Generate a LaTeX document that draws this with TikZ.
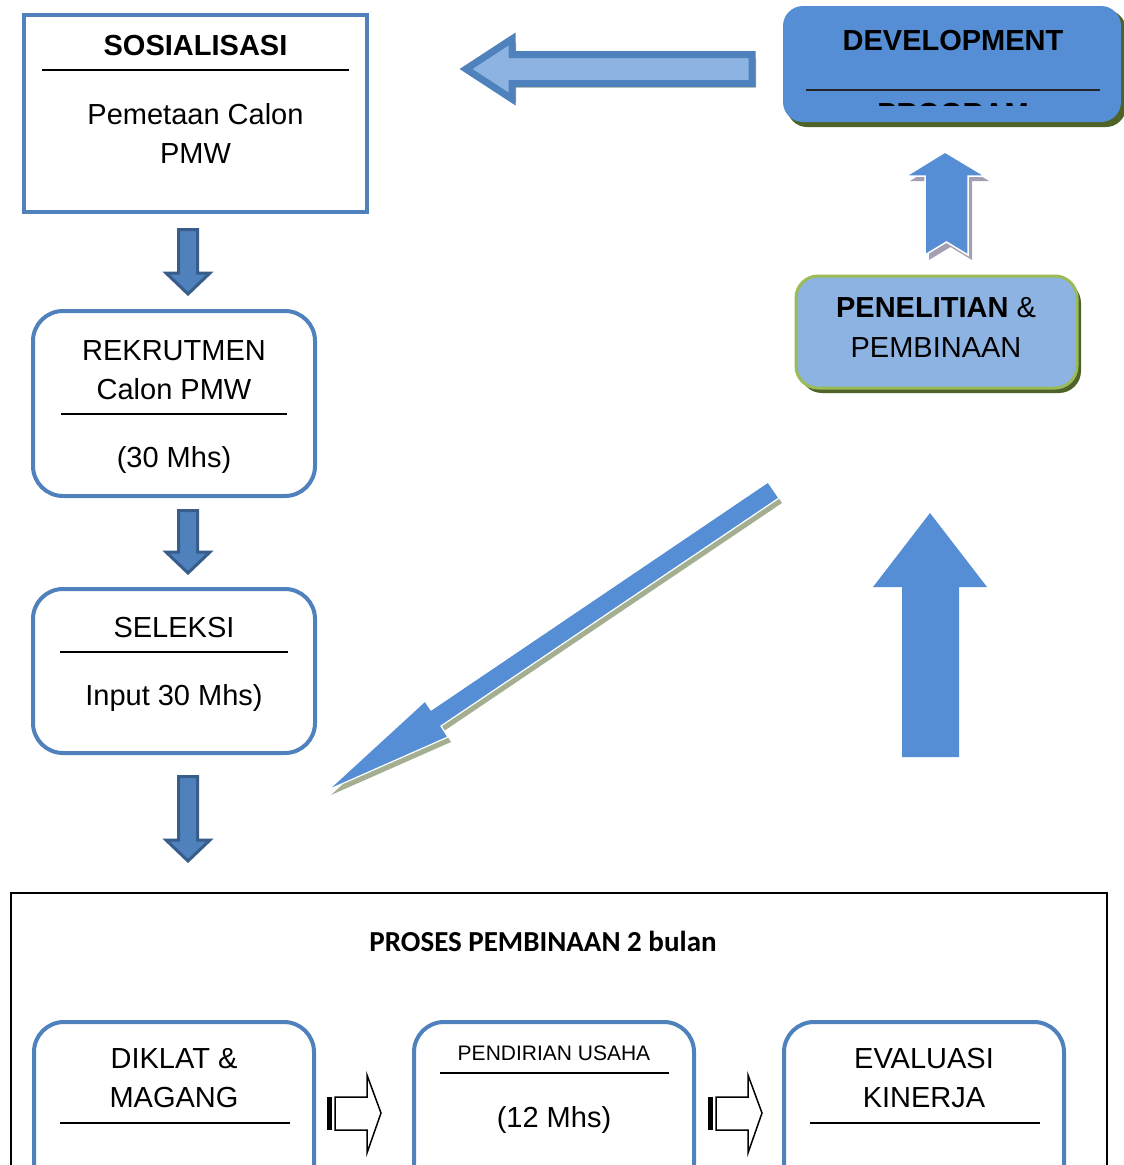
\documentclass[tikz,border=0pt]{standalone}
\usepackage{fontspec}
\setmainfont{Liberation Sans}
\newfontfamily\calibrifont{Carlito}
\usetikzlibrary{calc}
\definecolor{boxblue}{HTML}{4F81BD}
\definecolor{arrowedge}{HTML}{385D8A}
\definecolor{devblue}{HTML}{558ED5}
\definecolor{lightblue}{HTML}{8DB3E2}
\definecolor{darkolive}{HTML}{4F6228}
\definecolor{leafgreen}{HTML}{9BBB59}
\definecolor{sageshadow}{HTML}{A4AF91}
\definecolor{mauveshadow}{HTML}{A59FB5}

\tikzset{
  every node/.style={inner sep=0pt, outer sep=0pt},
  txt/.style={anchor=base, font=\fontsize{29}{35}\selectfont},
  boldtxt/.style={anchor=base, font=\fontsize{29}{35}\selectfont\bfseries},
  smalltxt/.style={anchor=base, font=\fontsize{21}{25}\selectfont},
  rule/.style={line width=2pt, black},
  squarebox/.style={draw=boxblue, line width=4pt},
  roundbox/.style={draw=boxblue, line width=4pt, rounded corners=30pt},
  downblock/.style={fill=boxblue, draw=arrowedge, line width=3pt},
  stripearrow/.pic={
    \fill[black] (0,0) rectangle (5,33);
    \draw[black, line width=1.5pt, fill=white]
      (8,0) -- (40,0) -- (40,-22) -- (54,16) -- (40,56) -- (40,33) -- (8,33) -- cycle;
  }
}

% vertical block arrow pointing down, centred at x=188
\newcommand\dropblock[3]{%
  \filldraw[downblock] (178.5,#1+1.5) -- (197.5,#1+1.5) -- (197.5,#2) -- (210,#2)
    -- (188,#3-2) -- (166,#2) -- (178.5,#2) -- cycle;}

\begin{document}
\begin{tikzpicture}[x=1pt,y=-1pt]
\clip (0,0) rectangle (1124,1165);
\fill[white] (0,0) rectangle (1124,1165);

% ---------- SOSIALISASI ----------
\node[squarebox, minimum width=343pt, minimum height=197pt] (sos) at (195.5,113.5) {};
\node[boldtxt] (sostitle) at (195.5,55) {SOSIALISASI};
\draw[rule] (42,70) -- (349,70);
\node[txt] (sos1) at (195.5,124) {Pemetaan Calon};
\node[txt] (sos2) at (195.5,163) {PMW};

\dropblock{228}{273}{296}

% ---------- REKRUTMEN ----------
\node[roundbox, minimum width=282pt, minimum height=185pt] (rek) at (174,403.5) {};
\node[txt] (rek1) at (174,360) {REKRUTMEN};
\node[txt] (rek2) at (174,399) {Calon PMW};
\draw[rule] (61,414) -- (287,414);
\node[txt] (rek3) at (174,467) {(30 Mhs)};

\dropblock{509}{552}{575}

% ---------- SELEKSI ----------
\node[roundbox, minimum width=282pt, minimum height=164pt] (sel) at (174,671) {};
\node[txt] (sel1) at (174,637) {SELEKSI};
\draw[rule] (60,652) -- (288,652);
\node[txt] (sel2) at (174,705) {Input 30 Mhs)};

\dropblock{775}{840}{863}

% ---------- DEVELOPMENT ----------
\fill[darkolive, rounded corners=20pt] (787,10) rectangle (1126,127);
\node[fill=devblue, rounded corners=20pt, minimum width=338pt, minimum height=116pt] (dev) at (952,64) {};
\node[boldtxt] (devtitle) at (953,50) {DEVELOPMENT};
\draw[line width=2pt, black!85] (806,90) -- (1100,90);
\begin{scope}
  \clip (790,96) rectangle (1115,105);
  \node[boldtxt] (devsub) at (953,123) {PROGRAM};
\end{scope}

% arrow from DEVELOPMENT back to SOSIALISASI
\begin{scope}[shift={(4,4)}]
  \fill[sageshadow] (466,69) -- (512,39) -- (512,54.5) -- (752,54.5) -- (752,83.5)
    -- (512,83.5) -- (512,99) -- cycle;
\end{scope}
\filldraw[fill=lightblue, draw=boxblue, line width=7pt]
  (466,69) -- (512,39) -- (512,54.5) -- (752,54.5) -- (752,83.5)
  -- (512,83.5) -- (512,99) -- cycle;

% ---------- PENELITIAN & PEMBINAAN ----------
\fill[darkolive, rounded corners=22pt] (800,281) rectangle (1081,393);
\node[fill=lightblue, draw=leafgreen, line width=3pt, rounded corners=22pt,
      minimum width=281pt, minimum height=112pt] (pen) at (936.5,332) {};
\node[txt] (pen1) at (936,317) {{\bfseries PENELITIAN} \&};
\node[txt] (pen2) at (936,357) {PEMBINAAN};

% small arrow up to DEVELOPMENT
\begin{scope}[shift={(4,5)}]
  \fill[mauveshadow] (945,152) -- (985,176) -- (968,176) -- (968,255) -- (946.5,242)
    -- (925,255) -- (925,176) -- (906,176) -- cycle;
\end{scope}
\filldraw[fill=devblue, draw=white, line width=1.5pt]
  (945,152) -- (985,176) -- (968,176) -- (968,255) -- (946.5,242)
  -- (925,255) -- (925,176) -- (906,176) -- cycle;

% large arrow up to PENELITIAN
\fill[devblue] (930,513) -- (987,587) -- (959,587) -- (959,757) -- (902,757)
  -- (902,587) -- (873,587) -- cycle;

% diagonal arrow down towards the process block
\begin{scope}[shift={(3,5)}]
  \fill[sageshadow] (328,790) -- (425,701) -- (431,710) -- (768,482) -- (779,498)
    -- (441,726) -- (448,737) -- cycle;
\end{scope}
\filldraw[fill=devblue, draw=white, line width=1.2pt]
  (328,790) -- (425,701) -- (431,710) -- (768,482) -- (779,498)
  -- (441,726) -- (448,737) -- cycle;

% ---------- PROSES PEMBINAAN ----------
\node[draw=black, line width=1.5pt, minimum width=1096pt, minimum height=400pt] (proses) at (559,1093) {};
\node[anchor=base, font=\calibrifont\bfseries\fontsize{29}{35}\selectfont] (prosestitle) at (543,951) {PROSES PEMBINAAN 2 bulan};

\node[roundbox, minimum width=280pt, minimum height=180pt] (diklat) at (174,1112) {};
\node[txt] (dik1) at (174,1068) {DIKLAT \&};
\node[txt] (dik2) at (174,1107) {MAGANG};
\draw[rule] (60,1123) -- (290,1123);

\node[roundbox, minimum width=280pt, minimum height=180pt] (usaha) at (554,1112) {};
\node[smalltxt] (usa1) at (554,1060) {PENDIRIAN USAHA};
\draw[rule] (440,1073) -- (669,1073);
\node[txt] (usa2) at (554,1127) {(12 Mhs)};

\node[roundbox, minimum width=280pt, minimum height=180pt] (evaluasi) at (924,1112) {};
\node[txt] (eva1) at (924,1068) {EVALUASI};
\node[txt] (eva2) at (924,1107) {KINERJA};
\draw[rule] (810,1123) -- (1040,1123);

\pic at (327,1097) {stripearrow};
\pic at (708,1097) {stripearrow};

\end{tikzpicture}
\end{document}
